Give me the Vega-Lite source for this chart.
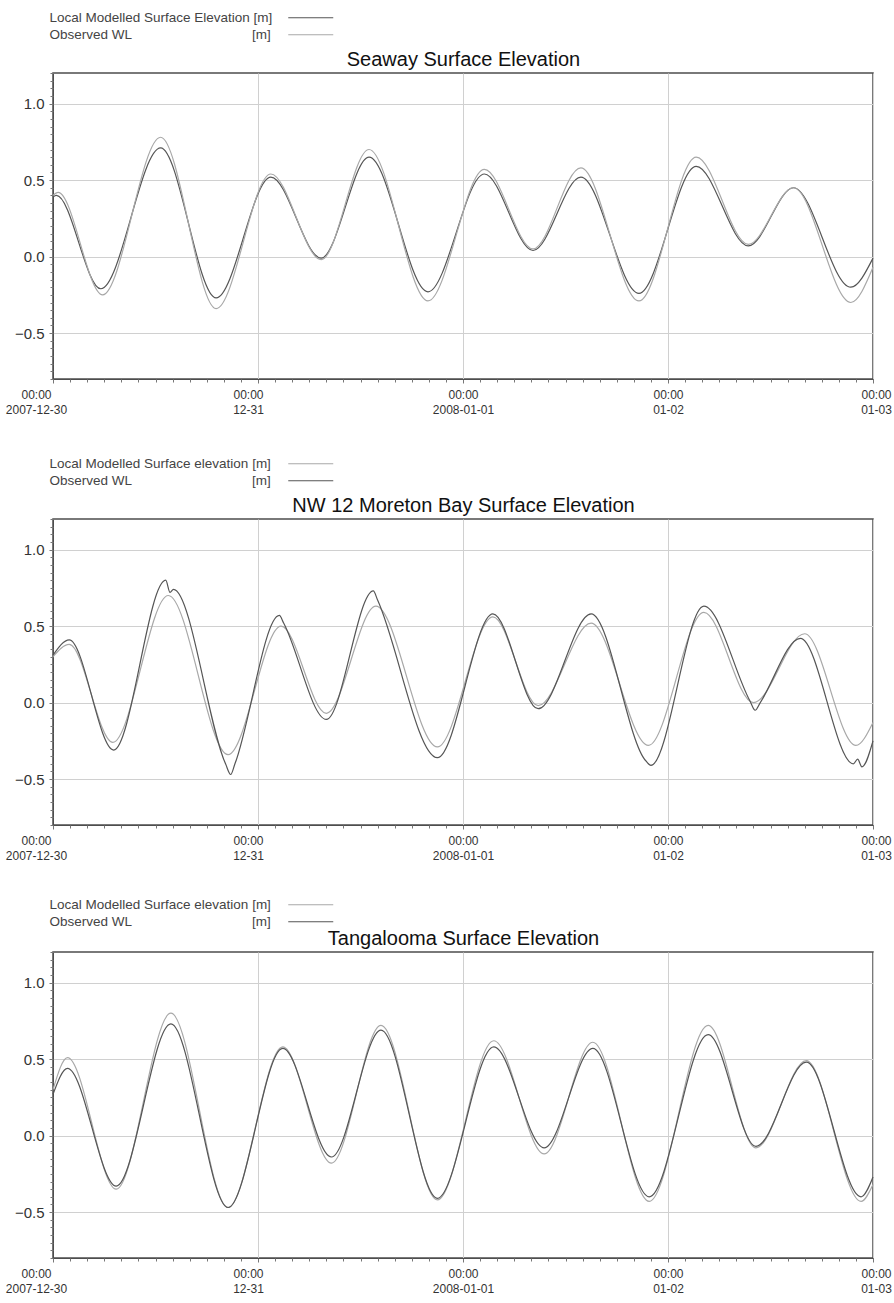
{
  "$schema": "https://vega.github.io/schema/vega-lite/v6.json",
  "background": "white",
  "padding": {"left": 4, "top": 10, "right": 2, "bottom": 2},
  "config": {
    "font": "Liberation Sans",
    "view": {"stroke": "#4d4d4d", "strokeWidth": 1.5},
    "legend": {
      "orient": "none", "title": null, "direction": "vertical", "padding": 0,
      "labelFontSize": 13.5, "labelColor": "#444", "labelLimit": 400,
      "legendX": 251, "symbolType": "M-5,0H5", "symbolSize": 81, "symbolStrokeWidth": 1.2,
      "symbolOffset": 0, "labelOffset": -268, "rowPadding": 2
    }
  },
  "datasets": {
    "seaway": [
      {"t": "2007-12-30T00:00", "series": "Local Modelled Surface Elevation", "v": 0.39},
      {"t": "2007-12-30T00:24", "series": "Local Modelled Surface Elevation", "v": 0.40},
      {"t": "2007-12-30T05:36", "series": "Local Modelled Surface Elevation", "v": -0.21},
      {"t": "2007-12-30T12:36", "series": "Local Modelled Surface Elevation", "v": 0.71},
      {"t": "2007-12-30T19:06", "series": "Local Modelled Surface Elevation", "v": -0.27},
      {"t": "2007-12-31T01:30", "series": "Local Modelled Surface Elevation", "v": 0.52},
      {"t": "2007-12-31T07:24", "series": "Local Modelled Surface Elevation", "v": -0.01},
      {"t": "2007-12-31T13:00", "series": "Local Modelled Surface Elevation", "v": 0.65},
      {"t": "2007-12-31T19:54", "series": "Local Modelled Surface Elevation", "v": -0.23},
      {"t": "2008-01-01T02:30", "series": "Local Modelled Surface Elevation", "v": 0.54},
      {"t": "2008-01-01T08:12", "series": "Local Modelled Surface Elevation", "v": 0.04},
      {"t": "2008-01-01T13:48", "series": "Local Modelled Surface Elevation", "v": 0.52},
      {"t": "2008-01-01T20:36", "series": "Local Modelled Surface Elevation", "v": -0.24},
      {"t": "2008-01-02T03:18", "series": "Local Modelled Surface Elevation", "v": 0.59},
      {"t": "2008-01-02T09:24", "series": "Local Modelled Surface Elevation", "v": 0.07},
      {"t": "2008-01-02T14:42", "series": "Local Modelled Surface Elevation", "v": 0.45},
      {"t": "2008-01-02T21:24", "series": "Local Modelled Surface Elevation", "v": -0.20},
      {"t": "2008-01-03T00:00", "series": "Local Modelled Surface Elevation", "v": -0.01},
      {"t": "2007-12-30T00:00", "series": "Observed WL", "v": 0.40},
      {"t": "2007-12-30T00:36", "series": "Observed WL", "v": 0.42},
      {"t": "2007-12-30T05:48", "series": "Observed WL", "v": -0.25},
      {"t": "2007-12-30T12:36", "series": "Observed WL", "v": 0.78},
      {"t": "2007-12-30T19:06", "series": "Observed WL", "v": -0.34},
      {"t": "2007-12-31T01:30", "series": "Observed WL", "v": 0.54},
      {"t": "2007-12-31T07:24", "series": "Observed WL", "v": -0.02},
      {"t": "2007-12-31T13:00", "series": "Observed WL", "v": 0.70},
      {"t": "2007-12-31T19:54", "series": "Observed WL", "v": -0.29},
      {"t": "2008-01-01T02:30", "series": "Observed WL", "v": 0.57},
      {"t": "2008-01-01T08:12", "series": "Observed WL", "v": 0.05},
      {"t": "2008-01-01T13:48", "series": "Observed WL", "v": 0.58},
      {"t": "2008-01-01T20:36", "series": "Observed WL", "v": -0.29},
      {"t": "2008-01-02T03:18", "series": "Observed WL", "v": 0.65},
      {"t": "2008-01-02T09:24", "series": "Observed WL", "v": 0.08},
      {"t": "2008-01-02T14:42", "series": "Observed WL", "v": 0.45},
      {"t": "2008-01-02T21:24", "series": "Observed WL", "v": -0.30},
      {"t": "2008-01-03T00:00", "series": "Observed WL", "v": -0.07}
    ],
    "moreton": [
      {"t": "2007-12-30T00:00", "series": "Local Modelled Surface elevation", "v": 0.30},
      {"t": "2007-12-30T01:54", "series": "Local Modelled Surface elevation", "v": 0.38},
      {"t": "2007-12-30T07:00", "series": "Local Modelled Surface elevation", "v": -0.26},
      {"t": "2007-12-30T13:30", "series": "Local Modelled Surface elevation", "v": 0.70},
      {"t": "2007-12-30T20:30", "series": "Local Modelled Surface elevation", "v": -0.34},
      {"t": "2007-12-31T02:42", "series": "Local Modelled Surface elevation", "v": 0.50},
      {"t": "2007-12-31T08:00", "series": "Local Modelled Surface elevation", "v": -0.07},
      {"t": "2007-12-31T13:48", "series": "Local Modelled Surface elevation", "v": 0.63},
      {"t": "2007-12-31T21:00", "series": "Local Modelled Surface elevation", "v": -0.29},
      {"t": "2008-01-01T03:30", "series": "Local Modelled Surface elevation", "v": 0.56},
      {"t": "2008-01-01T08:48", "series": "Local Modelled Surface elevation", "v": -0.02},
      {"t": "2008-01-01T15:00", "series": "Local Modelled Surface elevation", "v": 0.52},
      {"t": "2008-01-01T21:42", "series": "Local Modelled Surface elevation", "v": -0.28},
      {"t": "2008-01-02T04:12", "series": "Local Modelled Surface elevation", "v": 0.59},
      {"t": "2008-01-02T10:00", "series": "Local Modelled Surface elevation", "v": 0.00},
      {"t": "2008-01-02T16:00", "series": "Local Modelled Surface elevation", "v": 0.45},
      {"t": "2008-01-02T22:00", "series": "Local Modelled Surface elevation", "v": -0.28},
      {"t": "2008-01-03T00:00", "series": "Local Modelled Surface elevation", "v": -0.13},
      {"t": "2007-12-30T00:00", "series": "Observed WL", "v": 0.31},
      {"t": "2007-12-30T01:54", "series": "Observed WL", "v": 0.41},
      {"t": "2007-12-30T07:06", "series": "Observed WL", "v": -0.31},
      {"t": "2007-12-30T13:12", "series": "Observed WL", "v": 0.80},
      {"t": "2007-12-30T13:42", "series": "Observed WL", "v": 0.72},
      {"t": "2007-12-30T14:06", "series": "Observed WL", "v": 0.74},
      {"t": "2007-12-30T20:12", "series": "Observed WL", "v": -0.40},
      {"t": "2007-12-30T20:48", "series": "Observed WL", "v": -0.47},
      {"t": "2007-12-30T21:18", "series": "Observed WL", "v": -0.40},
      {"t": "2007-12-31T02:30", "series": "Observed WL", "v": 0.57},
      {"t": "2007-12-31T03:00", "series": "Observed WL", "v": 0.52},
      {"t": "2007-12-31T08:00", "series": "Observed WL", "v": -0.11},
      {"t": "2007-12-31T13:30", "series": "Observed WL", "v": 0.73},
      {"t": "2007-12-31T14:00", "series": "Observed WL", "v": 0.67},
      {"t": "2007-12-31T21:00", "series": "Observed WL", "v": -0.36},
      {"t": "2008-01-01T03:30", "series": "Observed WL", "v": 0.58},
      {"t": "2008-01-01T08:48", "series": "Observed WL", "v": -0.04},
      {"t": "2008-01-01T15:00", "series": "Observed WL", "v": 0.58},
      {"t": "2008-01-01T21:24", "series": "Observed WL", "v": -0.38},
      {"t": "2008-01-01T22:00", "series": "Observed WL", "v": -0.41},
      {"t": "2008-01-02T04:12", "series": "Observed WL", "v": 0.63},
      {"t": "2008-01-02T09:36", "series": "Observed WL", "v": 0.01},
      {"t": "2008-01-02T10:12", "series": "Observed WL", "v": -0.05},
      {"t": "2008-01-02T10:48", "series": "Observed WL", "v": 0.00},
      {"t": "2008-01-02T15:30", "series": "Observed WL", "v": 0.42},
      {"t": "2008-01-02T21:42", "series": "Observed WL", "v": -0.40},
      {"t": "2008-01-02T22:12", "series": "Observed WL", "v": -0.37},
      {"t": "2008-01-02T22:42", "series": "Observed WL", "v": -0.42},
      {"t": "2008-01-03T00:00", "series": "Observed WL", "v": -0.25}
    ],
    "tangalooma": [
      {"t": "2007-12-30T00:00", "series": "Local Modelled Surface elevation", "v": 0.30},
      {"t": "2007-12-30T01:42", "series": "Local Modelled Surface elevation", "v": 0.51},
      {"t": "2007-12-30T07:24", "series": "Local Modelled Surface elevation", "v": -0.35},
      {"t": "2007-12-30T13:48", "series": "Local Modelled Surface elevation", "v": 0.80},
      {"t": "2007-12-30T20:30", "series": "Local Modelled Surface elevation", "v": -0.47},
      {"t": "2007-12-31T02:54", "series": "Local Modelled Surface elevation", "v": 0.58},
      {"t": "2007-12-31T08:36", "series": "Local Modelled Surface elevation", "v": -0.18},
      {"t": "2007-12-31T14:24", "series": "Local Modelled Surface elevation", "v": 0.72},
      {"t": "2007-12-31T21:00", "series": "Local Modelled Surface elevation", "v": -0.42},
      {"t": "2008-01-01T03:36", "series": "Local Modelled Surface elevation", "v": 0.62},
      {"t": "2008-01-01T09:30", "series": "Local Modelled Surface elevation", "v": -0.12},
      {"t": "2008-01-01T15:12", "series": "Local Modelled Surface elevation", "v": 0.61},
      {"t": "2008-01-01T21:48", "series": "Local Modelled Surface elevation", "v": -0.43},
      {"t": "2008-01-02T04:42", "series": "Local Modelled Surface elevation", "v": 0.72},
      {"t": "2008-01-02T10:18", "series": "Local Modelled Surface elevation", "v": -0.08},
      {"t": "2008-01-02T16:12", "series": "Local Modelled Surface elevation", "v": 0.49},
      {"t": "2008-01-02T22:36", "series": "Local Modelled Surface elevation", "v": -0.43},
      {"t": "2008-01-03T00:00", "series": "Local Modelled Surface elevation", "v": -0.32},
      {"t": "2007-12-30T00:00", "series": "Observed WL", "v": 0.27},
      {"t": "2007-12-30T01:42", "series": "Observed WL", "v": 0.44},
      {"t": "2007-12-30T07:24", "series": "Observed WL", "v": -0.33},
      {"t": "2007-12-30T13:48", "series": "Observed WL", "v": 0.73},
      {"t": "2007-12-30T20:30", "series": "Observed WL", "v": -0.47},
      {"t": "2007-12-31T02:54", "series": "Observed WL", "v": 0.57},
      {"t": "2007-12-31T08:36", "series": "Observed WL", "v": -0.14},
      {"t": "2007-12-31T14:24", "series": "Observed WL", "v": 0.69},
      {"t": "2007-12-31T21:00", "series": "Observed WL", "v": -0.41},
      {"t": "2008-01-01T03:36", "series": "Observed WL", "v": 0.58},
      {"t": "2008-01-01T09:30", "series": "Observed WL", "v": -0.08},
      {"t": "2008-01-01T15:12", "series": "Observed WL", "v": 0.57},
      {"t": "2008-01-01T21:48", "series": "Observed WL", "v": -0.40},
      {"t": "2008-01-02T04:42", "series": "Observed WL", "v": 0.66},
      {"t": "2008-01-02T10:18", "series": "Observed WL", "v": -0.07},
      {"t": "2008-01-02T16:12", "series": "Observed WL", "v": 0.48},
      {"t": "2008-01-02T22:36", "series": "Observed WL", "v": -0.40},
      {"t": "2008-01-03T00:00", "series": "Observed WL", "v": -0.27}
    ]
  },
  "vconcat": [
    {
      "vconcat": [
        {
          "width": 820, "height": 306,
          "data": {"name": "seaway"},
          "encoding": {
            "color": {"field": "series", "type": "nominal",
              "scale": {"domain": ["Local Modelled Surface Elevation", "Observed WL"], "range": ["#555555", "#a8a8a8"]},
              "legend": {"legendY": -62,
                "labelExpr": "datum.label == 'Observed WL' ? 'Observed WL\u00a0\u00a0\u00a0\u00a0\u00a0\u00a0\u00a0\u00a0\u00a0\u00a0\u00a0\u00a0\u00a0\u00a0\u00a0\u00a0\u00a0\u00a0\u00a0\u00a0\u00a0\u00a0\u00a0\u00a0\u00a0\u00a0\u00a0\u00a0\u00a0\u00a0\u00a0\u00a0[m]' : datum.label + ' [m]'"}}
          },
          "layer": [
            {
              "transform": [{"filter": "datum.series != 'Observed WL'"}],
              "mark": {"type": "line", "strokeWidth": 1.2, "interpolate": "monotone"},
              "encoding": {
                "x": {"field": "t", "type": "temporal",
                  "scale": {"domain": [{"year": 2007, "month": 12, "date": 30}, {"year": 2008, "month": 1, "date": 3}]},
                  "axis": {"orient": "bottom", "title": null,
                    "values": [{"year": 2007, "month": 12, "date": 30}, {"year": 2007, "month": 12, "date": 31}, {"year": 2008, "month": 1, "date": 1}, {"year": 2008, "month": 1, "date": 2}, {"year": 2008, "month": 1, "date": 3}],
                    "tickSize": 4, "tickColor": "#777",
                    "domainColor": "#4d4d4d", "labelFontSize": 12, "labelColor": "#333", "labelPadding": 6, "labelLineHeight": 15,
                    "labelBaseline": "top", "labelOverlap": false, "labelFlush": false,
                    "labelExpr": "['00:00', (month(datum.value) == 11 && date(datum.value) == 30) || (month(datum.value) == 0 && date(datum.value) == 1) ? timeFormat(datum.value, '%Y-%m-%d') : timeFormat(datum.value, '%m-%d')]",
                    "labelOffset": {"condition": [{"test": "date(datum.value) == 30", "value": -17}, {"test": "date(datum.value) == 31", "value": -10}, {"test": "date(datum.value) == 3", "value": 3}], "value": 0},
                    "grid": true, "gridColor": "#d0d0d0"}},
                "y": {"field": "v", "type": "quantitative", "scale": {"domain": [-0.8, 1.2], "nice": false, "zero": false},
                  "axis": {"orient": "left", "title": null, "values": [-0.5, 0, 0.5, 1], "format": ".1f", "tickSize": 4, "tickColor": "#777", "domainColor": "#4d4d4d",
                    "labelFontSize": 15, "labelColor": "#333", "labelPadding": 5, "gridColor": "#d0d0d0"}}
              }
            },
            {
              "transform": [{"filter": "datum.series == 'Observed WL'"}],
              "mark": {"type": "line", "strokeWidth": 1.2, "interpolate": "monotone"},
              "encoding": {
                "x": {"field": "t", "type": "temporal",
                  "scale": {"domain": [{"year": 2007, "month": 12, "date": 30}, {"year": 2008, "month": 1, "date": 3}]},
                  "axis": {"orient": "top", "title": "Seaway Surface Elevation", "titleFontSize": 20, "titleFontWeight": "normal",
                    "titleColor": "#111", "titlePadding": 4, "labels": false, "ticks": false, "domain": false, "grid": false}},
                "y": {"field": "v", "type": "quantitative", "scale": {"domain": [-0.8, 1.2], "nice": false, "zero": false},
                  "axis": {"orient": "left", "title": null, "labels": false, "grid": false, "domain": false, "tickSize": 3, "tickColor": "#777",
                    "values": [-0.8, -0.75, -0.7, -0.65, -0.6, -0.55, -0.5, -0.45, -0.4, -0.35, -0.3, -0.25, -0.2, -0.15, -0.1, -0.05, 0, 0.05, 0.1, 0.15, 0.2, 0.25, 0.3, 0.35, 0.4, 0.45, 0.5, 0.55, 0.6, 0.65, 0.7, 0.75, 0.8, 0.85, 0.9, 0.95, 1.0, 1.05, 1.1, 1.15, 1.2]}}
              }
            },
            {
              "transform": [{"filter": "datum.series != 'Observed WL'"}],
              "mark": {"type": "line", "opacity": 0},
              "encoding": {
                "x": {"field": "t", "type": "temporal",
                  "scale": {"domain": [{"year": 2007, "month": 12, "date": 30}, {"year": 2008, "month": 1, "date": 3}]},
                  "axis": {"orient": "bottom", "title": null, "labels": false, "grid": false, "domain": false, "tickSize": 3, "tickColor": "#777",
                    "values": [{"year": 2007, "month": 12, "date": 30, "hours": 2}, {"year": 2007, "month": 12, "date": 30, "hours": 4}, {"year": 2007, "month": 12, "date": 30, "hours": 6}, {"year": 2007, "month": 12, "date": 30, "hours": 8}, {"year": 2007, "month": 12, "date": 30, "hours": 10}, {"year": 2007, "month": 12, "date": 30, "hours": 12}, {"year": 2007, "month": 12, "date": 30, "hours": 14}, {"year": 2007, "month": 12, "date": 30, "hours": 16}, {"year": 2007, "month": 12, "date": 30, "hours": 18}, {"year": 2007, "month": 12, "date": 30, "hours": 20}, {"year": 2007, "month": 12, "date": 30, "hours": 22},
                      {"year": 2007, "month": 12, "date": 31, "hours": 2}, {"year": 2007, "month": 12, "date": 31, "hours": 4}, {"year": 2007, "month": 12, "date": 31, "hours": 6}, {"year": 2007, "month": 12, "date": 31, "hours": 8}, {"year": 2007, "month": 12, "date": 31, "hours": 10}, {"year": 2007, "month": 12, "date": 31, "hours": 12}, {"year": 2007, "month": 12, "date": 31, "hours": 14}, {"year": 2007, "month": 12, "date": 31, "hours": 16}, {"year": 2007, "month": 12, "date": 31, "hours": 18}, {"year": 2007, "month": 12, "date": 31, "hours": 20}, {"year": 2007, "month": 12, "date": 31, "hours": 22},
                      {"year": 2008, "month": 1, "date": 1, "hours": 2}, {"year": 2008, "month": 1, "date": 1, "hours": 4}, {"year": 2008, "month": 1, "date": 1, "hours": 6}, {"year": 2008, "month": 1, "date": 1, "hours": 8}, {"year": 2008, "month": 1, "date": 1, "hours": 10}, {"year": 2008, "month": 1, "date": 1, "hours": 12}, {"year": 2008, "month": 1, "date": 1, "hours": 14}, {"year": 2008, "month": 1, "date": 1, "hours": 16}, {"year": 2008, "month": 1, "date": 1, "hours": 18}, {"year": 2008, "month": 1, "date": 1, "hours": 20}, {"year": 2008, "month": 1, "date": 1, "hours": 22},
                      {"year": 2008, "month": 1, "date": 2, "hours": 2}, {"year": 2008, "month": 1, "date": 2, "hours": 4}, {"year": 2008, "month": 1, "date": 2, "hours": 6}, {"year": 2008, "month": 1, "date": 2, "hours": 8}, {"year": 2008, "month": 1, "date": 2, "hours": 10}, {"year": 2008, "month": 1, "date": 2, "hours": 12}, {"year": 2008, "month": 1, "date": 2, "hours": 14}, {"year": 2008, "month": 1, "date": 2, "hours": 16}, {"year": 2008, "month": 1, "date": 2, "hours": 18}, {"year": 2008, "month": 1, "date": 2, "hours": 20}, {"year": 2008, "month": 1, "date": 2, "hours": 22}]}},
                "y": {"field": "v", "type": "quantitative", "scale": {"domain": [-0.8, 1.2], "nice": false, "zero": false}, "axis": null}
              }
            }
          ],
          "resolve": {"axis": {"x": "independent", "y": "independent"}}
        },
        {
          "width": 820, "height": 306,
          "data": {"name": "moreton"},
          "encoding": {
            "color": {"field": "series", "type": "nominal",
              "scale": {"domain": ["Local Modelled Surface elevation", "Observed WL"], "range": ["#a8a8a8", "#555555"]},
              "legend": {"legendY": -62,
                "labelExpr": "datum.label == 'Observed WL' ? 'Observed WL\u00a0\u00a0\u00a0\u00a0\u00a0\u00a0\u00a0\u00a0\u00a0\u00a0\u00a0\u00a0\u00a0\u00a0\u00a0\u00a0\u00a0\u00a0\u00a0\u00a0\u00a0\u00a0\u00a0\u00a0\u00a0\u00a0\u00a0\u00a0\u00a0\u00a0\u00a0\u00a0[m]' : datum.label + ' [m]'"}}
          },
          "layer": [
            {
              "transform": [{"filter": "datum.series != 'Observed WL'"}],
              "mark": {"type": "line", "strokeWidth": 1.2, "interpolate": "monotone"},
              "encoding": {
                "x": {"field": "t", "type": "temporal",
                  "scale": {"domain": [{"year": 2007, "month": 12, "date": 30}, {"year": 2008, "month": 1, "date": 3}]},
                  "axis": {"orient": "bottom", "title": null,
                    "values": [{"year": 2007, "month": 12, "date": 30}, {"year": 2007, "month": 12, "date": 31}, {"year": 2008, "month": 1, "date": 1}, {"year": 2008, "month": 1, "date": 2}, {"year": 2008, "month": 1, "date": 3}],
                    "tickSize": 4, "tickColor": "#777",
                    "domainColor": "#4d4d4d", "labelFontSize": 12, "labelColor": "#333", "labelPadding": 6, "labelLineHeight": 15,
                    "labelBaseline": "top", "labelOverlap": false, "labelFlush": false,
                    "labelExpr": "['00:00', (month(datum.value) == 11 && date(datum.value) == 30) || (month(datum.value) == 0 && date(datum.value) == 1) ? timeFormat(datum.value, '%Y-%m-%d') : timeFormat(datum.value, '%m-%d')]",
                    "labelOffset": {"condition": [{"test": "date(datum.value) == 30", "value": -17}, {"test": "date(datum.value) == 31", "value": -10}, {"test": "date(datum.value) == 3", "value": 3}], "value": 0},
                    "grid": true, "gridColor": "#d0d0d0"}},
                "y": {"field": "v", "type": "quantitative", "scale": {"domain": [-0.8, 1.2], "nice": false, "zero": false},
                  "axis": {"orient": "left", "title": null, "values": [-0.5, 0, 0.5, 1], "format": ".1f", "tickSize": 4, "tickColor": "#777", "domainColor": "#4d4d4d",
                    "labelFontSize": 15, "labelColor": "#333", "labelPadding": 5, "gridColor": "#d0d0d0"}}
              }
            },
            {
              "transform": [{"filter": "datum.series == 'Observed WL'"}],
              "mark": {"type": "line", "strokeWidth": 1.2, "interpolate": "monotone"},
              "encoding": {
                "x": {"field": "t", "type": "temporal",
                  "scale": {"domain": [{"year": 2007, "month": 12, "date": 30}, {"year": 2008, "month": 1, "date": 3}]},
                  "axis": {"orient": "top", "title": "NW 12 Moreton Bay Surface Elevation", "titleFontSize": 20, "titleFontWeight": "normal",
                    "titleColor": "#111", "titlePadding": 4, "labels": false, "ticks": false, "domain": false, "grid": false}},
                "y": {"field": "v", "type": "quantitative", "scale": {"domain": [-0.8, 1.2], "nice": false, "zero": false},
                  "axis": {"orient": "left", "title": null, "labels": false, "grid": false, "domain": false, "tickSize": 3, "tickColor": "#777",
                    "values": [-0.8, -0.75, -0.7, -0.65, -0.6, -0.55, -0.5, -0.45, -0.4, -0.35, -0.3, -0.25, -0.2, -0.15, -0.1, -0.05, 0, 0.05, 0.1, 0.15, 0.2, 0.25, 0.3, 0.35, 0.4, 0.45, 0.5, 0.55, 0.6, 0.65, 0.7, 0.75, 0.8, 0.85, 0.9, 0.95, 1.0, 1.05, 1.1, 1.15, 1.2]}}
              }
            },
            {
              "transform": [{"filter": "datum.series != 'Observed WL'"}],
              "mark": {"type": "line", "opacity": 0},
              "encoding": {
                "x": {"field": "t", "type": "temporal",
                  "scale": {"domain": [{"year": 2007, "month": 12, "date": 30}, {"year": 2008, "month": 1, "date": 3}]},
                  "axis": {"orient": "bottom", "title": null, "labels": false, "grid": false, "domain": false, "tickSize": 3, "tickColor": "#777",
                    "values": [{"year": 2007, "month": 12, "date": 30, "hours": 2}, {"year": 2007, "month": 12, "date": 30, "hours": 4}, {"year": 2007, "month": 12, "date": 30, "hours": 6}, {"year": 2007, "month": 12, "date": 30, "hours": 8}, {"year": 2007, "month": 12, "date": 30, "hours": 10}, {"year": 2007, "month": 12, "date": 30, "hours": 12}, {"year": 2007, "month": 12, "date": 30, "hours": 14}, {"year": 2007, "month": 12, "date": 30, "hours": 16}, {"year": 2007, "month": 12, "date": 30, "hours": 18}, {"year": 2007, "month": 12, "date": 30, "hours": 20}, {"year": 2007, "month": 12, "date": 30, "hours": 22},
                      {"year": 2007, "month": 12, "date": 31, "hours": 2}, {"year": 2007, "month": 12, "date": 31, "hours": 4}, {"year": 2007, "month": 12, "date": 31, "hours": 6}, {"year": 2007, "month": 12, "date": 31, "hours": 8}, {"year": 2007, "month": 12, "date": 31, "hours": 10}, {"year": 2007, "month": 12, "date": 31, "hours": 12}, {"year": 2007, "month": 12, "date": 31, "hours": 14}, {"year": 2007, "month": 12, "date": 31, "hours": 16}, {"year": 2007, "month": 12, "date": 31, "hours": 18}, {"year": 2007, "month": 12, "date": 31, "hours": 20}, {"year": 2007, "month": 12, "date": 31, "hours": 22},
                      {"year": 2008, "month": 1, "date": 1, "hours": 2}, {"year": 2008, "month": 1, "date": 1, "hours": 4}, {"year": 2008, "month": 1, "date": 1, "hours": 6}, {"year": 2008, "month": 1, "date": 1, "hours": 8}, {"year": 2008, "month": 1, "date": 1, "hours": 10}, {"year": 2008, "month": 1, "date": 1, "hours": 12}, {"year": 2008, "month": 1, "date": 1, "hours": 14}, {"year": 2008, "month": 1, "date": 1, "hours": 16}, {"year": 2008, "month": 1, "date": 1, "hours": 18}, {"year": 2008, "month": 1, "date": 1, "hours": 20}, {"year": 2008, "month": 1, "date": 1, "hours": 22},
                      {"year": 2008, "month": 1, "date": 2, "hours": 2}, {"year": 2008, "month": 1, "date": 2, "hours": 4}, {"year": 2008, "month": 1, "date": 2, "hours": 6}, {"year": 2008, "month": 1, "date": 2, "hours": 8}, {"year": 2008, "month": 1, "date": 2, "hours": 10}, {"year": 2008, "month": 1, "date": 2, "hours": 12}, {"year": 2008, "month": 1, "date": 2, "hours": 14}, {"year": 2008, "month": 1, "date": 2, "hours": 16}, {"year": 2008, "month": 1, "date": 2, "hours": 18}, {"year": 2008, "month": 1, "date": 2, "hours": 20}, {"year": 2008, "month": 1, "date": 2, "hours": 22}]}},
                "y": {"field": "v", "type": "quantitative", "scale": {"domain": [-0.8, 1.2], "nice": false, "zero": false}, "axis": null}
              }
            }
          ],
          "resolve": {"axis": {"x": "independent", "y": "independent"}}
        }
      ],
      "spacing": 40,
      "resolve": {"scale": {"x": "independent", "y": "independent", "color": "independent"}, "legend": {"color": "independent"}}
    },
    {
      "width": 820, "height": 306,
      "data": {"name": "tangalooma"},
      "encoding": {
        "color": {"field": "series", "type": "nominal",
          "scale": {"domain": ["Local Modelled Surface elevation", "Observed WL"], "range": ["#a8a8a8", "#555555"]},
          "legend": {"legendY": -54,
            "labelExpr": "datum.label == 'Observed WL' ? 'Observed WL\u00a0\u00a0\u00a0\u00a0\u00a0\u00a0\u00a0\u00a0\u00a0\u00a0\u00a0\u00a0\u00a0\u00a0\u00a0\u00a0\u00a0\u00a0\u00a0\u00a0\u00a0\u00a0\u00a0\u00a0\u00a0\u00a0\u00a0\u00a0\u00a0\u00a0\u00a0\u00a0[m]' : datum.label + ' [m]'"}}
      },
      "layer": [
        {
          "transform": [{"filter": "datum.series != 'Observed WL'"}],
          "mark": {"type": "line", "strokeWidth": 1.2, "interpolate": "monotone"},
          "encoding": {
            "x": {"field": "t", "type": "temporal",
              "scale": {"domain": [{"year": 2007, "month": 12, "date": 30}, {"year": 2008, "month": 1, "date": 3}]},
              "axis": {"orient": "bottom", "title": null,
                "values": [{"year": 2007, "month": 12, "date": 30}, {"year": 2007, "month": 12, "date": 31}, {"year": 2008, "month": 1, "date": 1}, {"year": 2008, "month": 1, "date": 2}, {"year": 2008, "month": 1, "date": 3}],
                "tickSize": 4, "tickColor": "#777",
                "domainColor": "#4d4d4d", "labelFontSize": 12, "labelColor": "#333", "labelPadding": 6, "labelLineHeight": 15,
                "labelBaseline": "top", "labelOverlap": false, "labelFlush": false,
                "labelExpr": "['00:00', (month(datum.value) == 11 && date(datum.value) == 30) || (month(datum.value) == 0 && date(datum.value) == 1) ? timeFormat(datum.value, '%Y-%m-%d') : timeFormat(datum.value, '%m-%d')]",
                "labelOffset": {"condition": [{"test": "date(datum.value) == 30", "value": -17}, {"test": "date(datum.value) == 31", "value": -10}, {"test": "date(datum.value) == 3", "value": 3}], "value": 0},
                "grid": true, "gridColor": "#d0d0d0"}},
            "y": {"field": "v", "type": "quantitative", "scale": {"domain": [-0.8, 1.2], "nice": false, "zero": false},
              "axis": {"orient": "left", "title": null, "values": [-0.5, 0, 0.5, 1], "format": ".1f", "tickSize": 4, "tickColor": "#777", "domainColor": "#4d4d4d",
                "labelFontSize": 15, "labelColor": "#333", "labelPadding": 5, "gridColor": "#d0d0d0"}}
          }
        },
        {
          "transform": [{"filter": "datum.series == 'Observed WL'"}],
          "mark": {"type": "line", "strokeWidth": 1.2, "interpolate": "monotone"},
          "encoding": {
            "x": {"field": "t", "type": "temporal",
              "scale": {"domain": [{"year": 2007, "month": 12, "date": 30}, {"year": 2008, "month": 1, "date": 3}]},
              "axis": {"orient": "top", "title": "Tangalooma Surface Elevation", "titleFontSize": 20, "titleFontWeight": "normal",
                "titleColor": "#111", "titlePadding": 4, "labels": false, "ticks": false, "domain": false, "grid": false}},
            "y": {"field": "v", "type": "quantitative", "scale": {"domain": [-0.8, 1.2], "nice": false, "zero": false},
              "axis": {"orient": "left", "title": null, "labels": false, "grid": false, "domain": false, "tickSize": 3, "tickColor": "#777",
                "values": [-0.8, -0.75, -0.7, -0.65, -0.6, -0.55, -0.5, -0.45, -0.4, -0.35, -0.3, -0.25, -0.2, -0.15, -0.1, -0.05, 0, 0.05, 0.1, 0.15, 0.2, 0.25, 0.3, 0.35, 0.4, 0.45, 0.5, 0.55, 0.6, 0.65, 0.7, 0.75, 0.8, 0.85, 0.9, 0.95, 1.0, 1.05, 1.1, 1.15, 1.2]}}
          }
        },
        {
          "transform": [{"filter": "datum.series != 'Observed WL'"}],
          "mark": {"type": "line", "opacity": 0},
          "encoding": {
            "x": {"field": "t", "type": "temporal",
              "scale": {"domain": [{"year": 2007, "month": 12, "date": 30}, {"year": 2008, "month": 1, "date": 3}]},
              "axis": {"orient": "bottom", "title": null, "labels": false, "grid": false, "domain": false, "tickSize": 3, "tickColor": "#777",
                "values": [{"year": 2007, "month": 12, "date": 30, "hours": 2}, {"year": 2007, "month": 12, "date": 30, "hours": 4}, {"year": 2007, "month": 12, "date": 30, "hours": 6}, {"year": 2007, "month": 12, "date": 30, "hours": 8}, {"year": 2007, "month": 12, "date": 30, "hours": 10}, {"year": 2007, "month": 12, "date": 30, "hours": 12}, {"year": 2007, "month": 12, "date": 30, "hours": 14}, {"year": 2007, "month": 12, "date": 30, "hours": 16}, {"year": 2007, "month": 12, "date": 30, "hours": 18}, {"year": 2007, "month": 12, "date": 30, "hours": 20}, {"year": 2007, "month": 12, "date": 30, "hours": 22},
                  {"year": 2007, "month": 12, "date": 31, "hours": 2}, {"year": 2007, "month": 12, "date": 31, "hours": 4}, {"year": 2007, "month": 12, "date": 31, "hours": 6}, {"year": 2007, "month": 12, "date": 31, "hours": 8}, {"year": 2007, "month": 12, "date": 31, "hours": 10}, {"year": 2007, "month": 12, "date": 31, "hours": 12}, {"year": 2007, "month": 12, "date": 31, "hours": 14}, {"year": 2007, "month": 12, "date": 31, "hours": 16}, {"year": 2007, "month": 12, "date": 31, "hours": 18}, {"year": 2007, "month": 12, "date": 31, "hours": 20}, {"year": 2007, "month": 12, "date": 31, "hours": 22},
                  {"year": 2008, "month": 1, "date": 1, "hours": 2}, {"year": 2008, "month": 1, "date": 1, "hours": 4}, {"year": 2008, "month": 1, "date": 1, "hours": 6}, {"year": 2008, "month": 1, "date": 1, "hours": 8}, {"year": 2008, "month": 1, "date": 1, "hours": 10}, {"year": 2008, "month": 1, "date": 1, "hours": 12}, {"year": 2008, "month": 1, "date": 1, "hours": 14}, {"year": 2008, "month": 1, "date": 1, "hours": 16}, {"year": 2008, "month": 1, "date": 1, "hours": 18}, {"year": 2008, "month": 1, "date": 1, "hours": 20}, {"year": 2008, "month": 1, "date": 1, "hours": 22},
                  {"year": 2008, "month": 1, "date": 2, "hours": 2}, {"year": 2008, "month": 1, "date": 2, "hours": 4}, {"year": 2008, "month": 1, "date": 2, "hours": 6}, {"year": 2008, "month": 1, "date": 2, "hours": 8}, {"year": 2008, "month": 1, "date": 2, "hours": 10}, {"year": 2008, "month": 1, "date": 2, "hours": 12}, {"year": 2008, "month": 1, "date": 2, "hours": 14}, {"year": 2008, "month": 1, "date": 2, "hours": 16}, {"year": 2008, "month": 1, "date": 2, "hours": 18}, {"year": 2008, "month": 1, "date": 2, "hours": 20}, {"year": 2008, "month": 1, "date": 2, "hours": 22}]}},
            "y": {"field": "v", "type": "quantitative", "scale": {"domain": [-0.8, 1.2], "nice": false, "zero": false}, "axis": null}
          }
        }
      ],
      "resolve": {"axis": {"x": "independent", "y": "independent"}}
    }
  ],
  "spacing": 35,
  "resolve": {"scale": {"x": "independent", "y": "independent", "color": "independent"}, "legend": {"color": "independent"}}
}
